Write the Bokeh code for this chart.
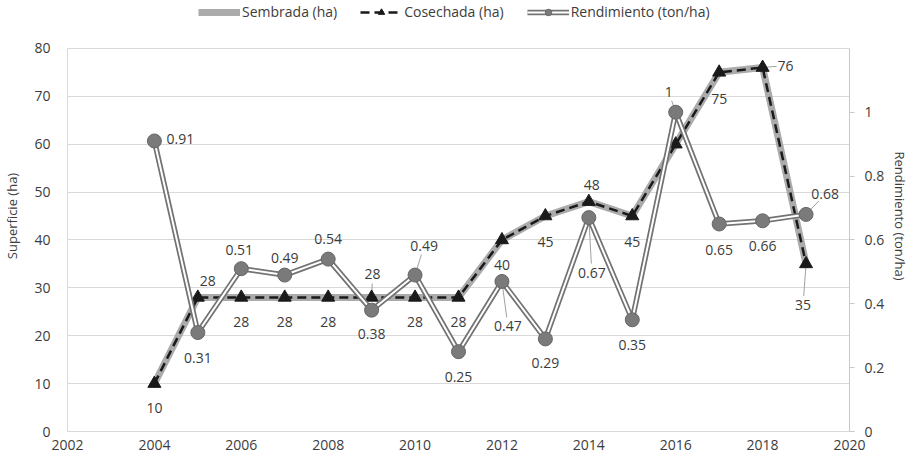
from bokeh.plotting import figure
from bokeh.models import (ColumnDataSource, LinearAxis, Range1d, Legend, LegendItem,
                          SingleIntervalTicker, CustomJSTickFormatter)
from bokeh.core.properties import value
from bokeh.embed import file_html
from bokeh.resources import INLINE

# ---- data ----
years = [2004, 2005, 2006, 2007, 2008, 2009, 2010, 2011, 2012, 2013, 2014, 2015, 2016, 2017, 2018, 2019]
sembrada = [10, 28, 28, 28, 28, 28, 28, 28, 40, 45, 48, 45, 60, 75, 76, 35]
cosechada = [10, 28, 28, 28, 28, 28, 28, 28, 40, 45, 48, 45, 60, 75, 76, 35]
rendimiento = [0.91, 0.31, 0.51, 0.49, 0.54, 0.38, 0.49, 0.25, 0.47, 0.29, 0.67, 0.35, 1.0, 0.65, 0.66, 0.68]
cos_labels = ["10", "28", "28", "28", "28", "28", "28", "28", "40", "45", "48", "45", "", "75", "76", "35"]
rend_labels = ["0.91", "0.31", "0.51", "0.49", "0.54", "0.38", "0.49", "0.25", "0.47", "0.29", "0.67", "0.35",
               "1", "0.65", "0.66", "0.68"]

# label placement (screen px offsets) and leader-line flags
cos_dx = [0, 10, 0, 0, 0, 1, 0, 0, 0, 0, 3, 0, 0, 0, 23, -3]
cos_dy = [24, -16, 25, 25, 25, -23, 25, 25, 25, 26, -17, 26, 0, 27, -2, 41]
cos_lead = [0, 0, 0, 0, 0, 1, 0, 0, 0, 0, 0, 0, 0, 0, 1, 1]
rend_dx = [26, 0, -2, 0, 0, 0, 9, 0, 6, 0, 3, 0, -7, 0, 0, 19]
rend_dy = [-2, 25, -19, -17, -20, 24, -29, 25, 45, 24, 55, 25, -20, 26, 25, -20]
rend_lead = [0, 0, 0, 0, 0, 0, 1, 0, 1, 0, 1, 0, 1, 0, 0, 1]

FONT = "Open Sans"
TXT = "#3c3c3c"

X0, X1 = 2002, 2020
Y0, Y1 = 0, 90        # headroom above 80 holds the legend
R0, R1 = 0, 1.35
FW, FH = 782, 431

src = ColumnDataSource(dict(x=years, s=sembrada, c=cosechada, r=rendimiento,
                            cl=cos_labels, rl=rend_labels,
                            cdx=cos_dx, cdy=cos_dy, rdx=rend_dx, rdy=rend_dy))

p = figure(frame_width=FW, frame_height=FH, x_range=Range1d(X0, X1), y_range=Range1d(Y0, Y1),
           output_backend="svg", toolbar_location=None,
           min_border_left=58, min_border_right=57, min_border_top=0, min_border_bottom=21)
p.outline_line_color = None
p.background_fill_color = "white"
p.extra_y_ranges = {"r": Range1d(R0, R1)}

p.xaxis.ticker = SingleIntervalTicker(interval=2)
p.yaxis.ticker = SingleIntervalTicker(interval=10)
p.yaxis.bounds = (0, 80)
for ax in (p.xaxis[0], p.yaxis[0]):
    ax.axis_line_color = "#d9d9d9"
    ax.major_tick_line_color = None
    ax.minor_tick_line_color = None
    ax.major_label_text_font = FONT
    ax.major_label_text_font_size = "14px"
    ax.major_label_text_color = TXT
p.xaxis.major_label_standoff = 2
p.yaxis.major_label_standoff = 11
p.yaxis.axis_label = "Superficie (ha)"
p.yaxis.axis_label_text_font = FONT
p.yaxis.axis_label_text_font_size = "13px"
p.yaxis.axis_label_text_font_style = "normal"
p.yaxis.axis_label_text_color = TXT
p.yaxis.axis_label_standoff = 10

rax = LinearAxis(y_range_name="r", ticker=SingleIntervalTicker(interval=0.2), bounds=(0, 1.2),
                 formatter=CustomJSTickFormatter(code="return (Math.round(tick*10)/10).toString();"),
                 axis_label="Rendimiento (ton/ha)")
rax.axis_line_color = "#c8c8c8"
rax.major_tick_line_color = "#c8c8c8"
rax.major_tick_in = 0
rax.major_tick_out = 5
rax.minor_tick_line_color = None
rax.major_label_standoff = 10
rax.major_label_text_font = FONT
rax.major_label_text_font_size = "14px"
rax.major_label_text_color = TXT
rax.axis_label_text_font = FONT
rax.axis_label_text_font_size = "13px"
rax.axis_label_text_font_style = "normal"
rax.axis_label_text_color = TXT
rax.axis_label_standoff = 4
p.add_layout(rax, "right")

p.xgrid.grid_line_color = None
p.ygrid.grid_line_color = "#d9d9d9"

# leader lines (screen px offsets converted through the axis scales)
sx = FW / (X1 - X0)
sy = FH / (Y1 - Y0)
sr = FH / (R1 - R0)
lx0, ly0, lx1, ly1 = [], [], [], []
for yr, v, dx, dy, f in zip(years, cosechada, cos_dx, cos_dy, cos_lead):
    if f:
        d = (dx * dx + dy * dy) ** 0.5
        k = 1 - 9 / d
        lx0.append(yr); ly0.append(v)
        lx1.append(yr + dx * k / sx); ly1.append(v - dy * k / sy)
p.segment(lx0, ly0, lx1, ly1, line_color="#a0a0a0", line_width=1)
rx0, ry0, rx1, ry1 = [], [], [], []
for yr, v, dx, dy, f in zip(years, rendimiento, rend_dx, rend_dy, rend_lead):
    if f:
        d = (dx * dx + dy * dy) ** 0.5
        k = 1 - 9 / d
        rx0.append(yr); ry0.append(v)
        rx1.append(yr + dx * k / sx); ry1.append(v - dy * k / sr)
p.segment(rx0, ry0, rx1, ry1, y_range_name="r", line_color="#a0a0a0", line_width=1)

# series
sem = p.line("x", "s", source=src, line_color="#ababab", line_width=7)
cos_l = p.line("x", "c", source=src, line_color="#1a1a1a", line_width=2.5, line_dash="9 5")
cos_m = p.scatter("x", "c", source=src, marker="triangle", size=13, fill_color="#1a1a1a", line_color="#1a1a1a")
r_out = p.line("x", "r", source=src, y_range_name="r", line_color="#737373", line_width=5.5)
r_in = p.line("x", "r", source=src, y_range_name="r", line_color="white", line_width=2)
r_m = p.scatter("x", "r", source=src, y_range_name="r", marker="circle", size=14,
                fill_color="#7a7a7a", line_color="#666666", line_width=1)

# data labels
p.text("x", "c", text="cl", source=src, x_offset="cdx", y_offset="cdy",
       text_align="center", text_baseline="middle", text_font=value(FONT),
       text_font_size="14px", text_color=TXT)
p.text("x", "r", text="rl", source=src, y_range_name="r", x_offset="rdx", y_offset="rdy",
       text_align="center", text_baseline="middle", text_font=value(FONT),
       text_font_size="14px", text_color=TXT)

legend = Legend(items=[LegendItem(label="Sembrada (ha)", renderers=[sem]),
                       LegendItem(label="Cosechada (ha)", renderers=[cos_l, cos_m]),
                       LegendItem(label="Rendimiento (ton/ha)", renderers=[r_out, r_in, r_m])],
                orientation="horizontal", location=(131, FH - 21), padding=0, margin=0,
                spacing=23, glyph_width=42, glyph_height=16, label_height=16, label_standoff=2,
                label_text_font=FONT, label_text_font_size="14px", label_text_color=TXT,
                border_line_color=None, background_fill_alpha=0)
p.add_layout(legend)

open("out.html", "w").write(file_html(p, INLINE))
